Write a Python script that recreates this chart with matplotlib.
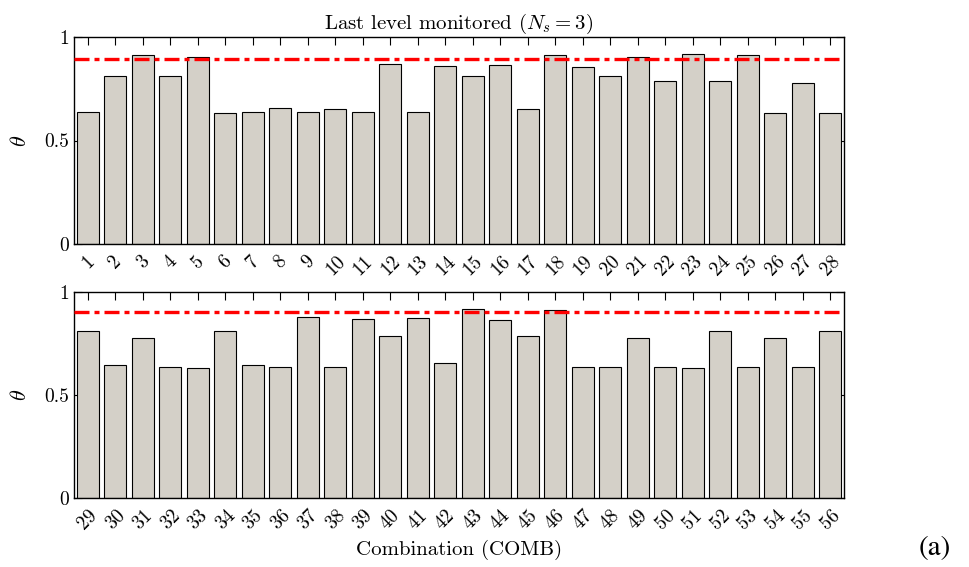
import numpy as np
import matplotlib
matplotlib.use('Agg')
import matplotlib.pyplot as plt

plt.rcParams['font.family'] = 'serif'
plt.rcParams['font.serif'] = ['cmr10']
plt.rcParams['mathtext.fontset'] = 'cm'
plt.rcParams['axes.formatter.use_mathtext'] = True

# data
comb_top = list(range(1, 29))
theta_top = [0.636, 0.813, 0.913, 0.813, 0.905, 0.634, 0.636, 0.655, 0.636, 0.654,
             0.636, 0.868, 0.636, 0.861, 0.813, 0.863, 0.651, 0.911, 0.857, 0.813,
             0.905, 0.786, 0.919, 0.786, 0.913, 0.631, 0.776, 0.633]
comb_bot = list(range(29, 57))
theta_bot = [0.810, 0.648, 0.776, 0.638, 0.631, 0.810, 0.648, 0.635, 0.877, 0.636,
             0.869, 0.786, 0.873, 0.653, 0.919, 0.865, 0.786, 0.912, 0.636, 0.638,
             0.776, 0.638, 0.633, 0.810, 0.638, 0.776, 0.638, 0.810]
thr_top = 0.893
thr_bot = 0.903

bar_color = '#d4d0c8'

fig = plt.figure(figsize=(9.69, 5.67), dpi=100)
W, H = 969, 567
ax1 = fig.add_axes([74 / W, 1 - 244 / H, (844 - 74) / W, (244 - 37) / H])
ax2 = fig.add_axes([74 / W, 1 - 498 / H, (844 - 74) / W, (498 - 292) / H])

for ax, x, y, thr in [(ax1, comb_top, theta_top, thr_top),
                      (ax2, comb_bot, theta_bot, thr_bot)]:
    ax.bar(x, y, width=0.8, color=bar_color, edgecolor='black', linewidth=0.8, zorder=2)
    ax.axhline(thr, color='red', linewidth=2.4, dashes=[4.5, 1.5, 1.5, 1.5], zorder=3)
    ax.set_xlim(x[0] - 0.5, x[-1] + 0.5)
    ax.set_ylim(0, 1)
    ax.set_xticks(x)
    ax.set_xticklabels([str(v) for v in x], rotation=45, ha='center', fontsize=14)
    ax.set_yticks([0, 0.5, 1])
    ax.set_yticklabels(['0', '0.5', '1'], fontsize=14)
    ax.tick_params(direction='in', top=True, right=True, length=6, width=0.8)
    ax.tick_params(axis='x', pad=6)
    ax.set_ylabel(r'$\theta$', fontsize=16, labelpad=10)
    for s in ax.spines.values():
        s.set_linewidth(1.0)

ax1.set_title(r'Last level monitored ($N_s = 3$)', fontsize=15, pad=6)
ax2.set_xlabel('Combination (COMB)', fontsize=15, labelpad=5)

fig.text(935 / W, 1 - 548 / H, '(a)', fontsize=21, family='STIXGeneral',
         ha='center', va='center')

fig.savefig('out.png', dpi=100)
